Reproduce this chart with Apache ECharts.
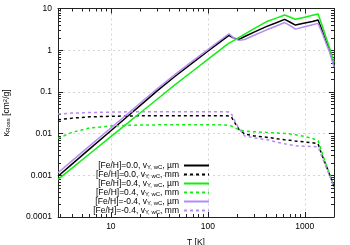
<!DOCTYPE html>
<html><head><meta charset="utf-8">
<script src="https://cdn.jsdelivr.net/npm/echarts@6/dist/echarts.min.js"></script>
<style>html,body{margin:0;padding:0;background:#fff}#c{width:350px;height:245px}</style>
</head><body><div id="c"></div>
<script>
// Temperature grid [K]
const T = [2.85, 4, 6, 10, 15, 20, 30, 45, 70, 100, 130, 150, 165, 175, 190, 210, 240, 300, 400, 500, 620, 700, 800, 1000, 1200, 1370, 1500, 1650, 1800, 1900, 2000];
// Rosseland mean opacities [cm^2/g]
const k00um = [0.00095, 0.00188, 0.00423, 0.0117, 0.0264, 0.047, 0.1057, 0.228, 0.506, 0.944, 1.50, 1.92, 2.27, 2.1, 1.9, 1.82, 2.13, 2.72, 3.67, 4.5, 5.5, 4.75, 4.0, 4.5, 4.9, 5.3, 3.07, 1.67, 1.0, 0.65, 0.45];
const k00mm = [0.0215, 0.0235, 0.0252, 0.026, 0.0265, 0.0267, 0.0268, 0.0268, 0.0268, 0.0268, 0.0267, 0.0267, 0.0265, 0.025, 0.018, 0.0125, 0.0098, 0.0088, 0.0082, 0.0076, 0.0071, 0.0069, 0.0066, 0.0063, 0.006, 0.0057, 0.0031, 0.00177, 0.00105, 0.00075, 0.00054];
const k04um = [0.0008, 0.00151, 0.00324, 0.00847, 0.0181, 0.0312, 0.0667, 0.143, 0.317, 0.603, 0.966, 1.25, 1.48, 1.58, 1.77, 2.03, 2.43, 3.28, 4.8, 5.8, 7.0, 6.27, 5.5, 6.2, 6.85, 7.4, 4.1, 2.07, 1.14, 0.75, 0.5];
const k04mm = [0.0077, 0.0108, 0.0136, 0.0152, 0.0158, 0.016, 0.0162, 0.0163, 0.0163, 0.0163, 0.0162, 0.016, 0.0158, 0.0152, 0.0138, 0.0123, 0.0115, 0.0111, 0.0107, 0.0104, 0.0101, 0.0098, 0.0094, 0.0085, 0.0076, 0.0068, 0.0036, 0.0019, 0.0011, 0.00075, 0.00054];
const km04um = [0.00115, 0.00224, 0.00499, 0.01365, 0.0303, 0.0535, 0.119, 0.252, 0.553, 1.03, 1.64, 2.10, 2.48, 2.2, 1.85, 1.72, 1.8, 2.28, 3.04, 3.75, 4.6, 3.93, 3.2, 3.66, 4.07, 4.4, 2.7, 1.5, 0.9, 0.6, 0.4];
const km04mm = [0.0295, 0.031, 0.032, 0.0328, 0.0333, 0.0334, 0.0335, 0.0335, 0.0335, 0.0335, 0.0334, 0.0333, 0.033, 0.030, 0.020, 0.0130, 0.0088, 0.0079, 0.0072, 0.0063, 0.0057, 0.0054, 0.0051, 0.005, 0.0049, 0.0048, 0.0028, 0.0016, 0.001, 0.0007, 0.0005];
// Legend labels
const names = ['[Fe/H]=0.0, v Y, wC, µm', '[Fe/H]=0.0, v Y, wC, mm', '[Fe/H]=0.4, v Y, wC, µm', '[Fe/H]=0.4, v Y, wC, mm', '[Fe/H]=-0.4, v Y, wC, µm', '[Fe/H]=-0.4, v Y, wC, mm'];
const richNames = ['[Fe/H]=0.0, v{sub|Y, wC}, µm', '[Fe/H]=0.0, v{sub|Y, wC}, mm', '[Fe/H]=0.4, v{sub|Y, wC}, µm', '[Fe/H]=0.4, v{sub|Y, wC}, mm', '[Fe/H]=-0.4, v{sub|Y, wC}, µm', '[Fe/H]=-0.4, v{sub|Y, wC}, mm'];
const xMin = 2.85, xMax = 2000, yMin = 0.0001, yMax = 10;

const FONT = 'Liberation Sans';
const chart = echarts.init(document.getElementById('c'), null, {renderer: 'canvas'});

function fmtPow(v) {
  const l = Math.log10(v), r = Math.round(l);
  if (Math.abs(l - r) > 1e-6) return '';
  if (r >= 0) return String(Math.round(Math.pow(10, r)));
  return Math.pow(10, r).toFixed(-r);
}
function pts(arr) { return T.map((t, i) => [t, arr[i]]); }

const green = '#11ee11', purple = '#b58cf0', black = '#000000';
const specs = [
  [k00um, black, 'solid'], [k00mm, black, [3, 3]],
  [k04um, green, 'solid'], [k04mm, green, [3, 3]],
  [km04um, purple, 'solid'], [km04mm, purple, [3, 3]]
];
const series = specs.map((s, i) => ({
  name: names[i], type: 'line', xAxisIndex: 0, yAxisIndex: 0,
  data: pts(s[0]), showSymbol: false, symbol: 'none', smooth: false,
  lineStyle: {color: s[1], width: 1.5, type: s[2]}, itemStyle: {color: s[1]},
  animation: false
}));

const axisLine = {show: true, lineStyle: {color: '#222', width: 1}};
const gridLine = {show: true, lineStyle: {color: '#d4d4d4', width: 1, type: [2, 3]}};
const labelStyle = {fontFamily: FONT, fontSize: 8.5, color: '#000'};

chart.setOption({
  animation: false,
  grid: {left: 58, right: 16, top: 8.5, bottom: 28, containLabel: false, outerBoundsMode: 'none'},
  legend: {
    orient: 'vertical', right: 140, top: 161, align: 'right', padding: 0,
    itemWidth: 25, itemHeight: 8.8, itemGap: 0,
    data: names,
    itemStyle: {opacity: 0, color: 'rgba(0,0,0,0)', borderWidth: 0},
    formatter: function (n) { return richNames[names.indexOf(n)]; },
    textStyle: {fontFamily: FONT, fontSize: 8.5, color: '#000', lineHeight: 8.8,
      rich: {sub: {fontFamily: FONT, fontSize: 6, color: '#000', verticalAlign: 'bottom', lineHeight: 8.8}}}
  },
  xAxis: [
    {type: 'log', logBase: 10, min: xMin, max: xMax, position: 'bottom',
     name: 'T [K]', nameLocation: 'middle', nameGap: 21,
     nameTextStyle: {fontFamily: FONT, fontSize: 8.5, color: '#000'},
     axisLine: axisLine, axisTick: {show: true, inside: true, length: 5, lineStyle: {color: '#222'}},
     axisLabel: Object.assign({formatter: fmtPow, margin: 5, showMinLabel: false}, labelStyle),
     splitLine: gridLine},
    {type: 'log', logBase: 10, min: xMin, max: xMax, position: 'top',
     axisLine: axisLine, axisTick: {show: true, inside: true, length: 5, lineStyle: {color: '#222'}},
     axisLabel: {show: false}, splitLine: {show: false}}
  ],
  yAxis: [
    {type: 'log', logBase: 10, min: yMin, max: yMax, position: 'left',
     name: 'κ{sub|Ross} [cm{sup|2}/g]', nameLocation: 'middle', nameGap: 47,
     nameTextStyle: {fontFamily: FONT, fontSize: 8.5, color: '#000',
       rich: {sub: {fontFamily: FONT, fontSize: 6, verticalAlign: 'bottom', color: '#000'},
              sup: {fontFamily: FONT, fontSize: 6, verticalAlign: 'top', color: '#000'}}},
     axisLine: axisLine, axisTick: {show: true, inside: true, length: 5, lineStyle: {color: '#222'}},
     axisLabel: Object.assign({formatter: fmtPow, margin: 6}, labelStyle),
     splitLine: gridLine},
    {type: 'log', logBase: 10, min: yMin, max: yMax, position: 'right',
     axisLine: axisLine, axisTick: {show: true, inside: true, length: 5, lineStyle: {color: '#222'}},
     axisLabel: {show: false}, splitLine: {show: false}}
  ],
  series: series
});

// gnuplot-style minor ticks (2..9 in each decade) placed through the axes' own scales
function minorValues(lo, hi) {
  const out = [];
  for (let e = Math.floor(Math.log10(lo)); e <= Math.ceil(Math.log10(hi)); e++) {
    for (let m = 2; m <= 9; m++) {
      const v = m * Math.pow(10, e);
      if (v > lo * 1.0001 && v < hi * 0.9999) out.push(v);
    }
  }
  return out;
}
const xL = chart.convertToPixel({xAxisIndex: 0}, xMin), xR = chart.convertToPixel({xAxisIndex: 0}, xMax);
const yB = chart.convertToPixel({yAxisIndex: 0}, yMin), yT = chart.convertToPixel({yAxisIndex: 0}, yMax);
const g = [];
const st = {stroke: '#222', lineWidth: 1};
minorValues(xMin, xMax).forEach(v => {
  const x = Math.round(chart.convertToPixel({xAxisIndex: 0}, v)) + 0.5;
  g.push({type: 'line', shape: {x1: x, y1: yB, x2: x, y2: yB - 3}, style: st, silent: true});
  g.push({type: 'line', shape: {x1: x, y1: yT, x2: x, y2: yT + 3}, style: st, silent: true});
});
minorValues(yMin, yMax).forEach(v => {
  const y = Math.round(chart.convertToPixel({yAxisIndex: 0}, v)) + 0.5;
  g.push({type: 'line', shape: {x1: xL, y1: y, x2: xL + 3, y2: y}, style: st, silent: true});
  g.push({type: 'line', shape: {x1: xR, y1: y, x2: xR - 3, y2: y}, style: st, silent: true});
});
chart.setOption({graphic: g});
</script>
</body></html>
